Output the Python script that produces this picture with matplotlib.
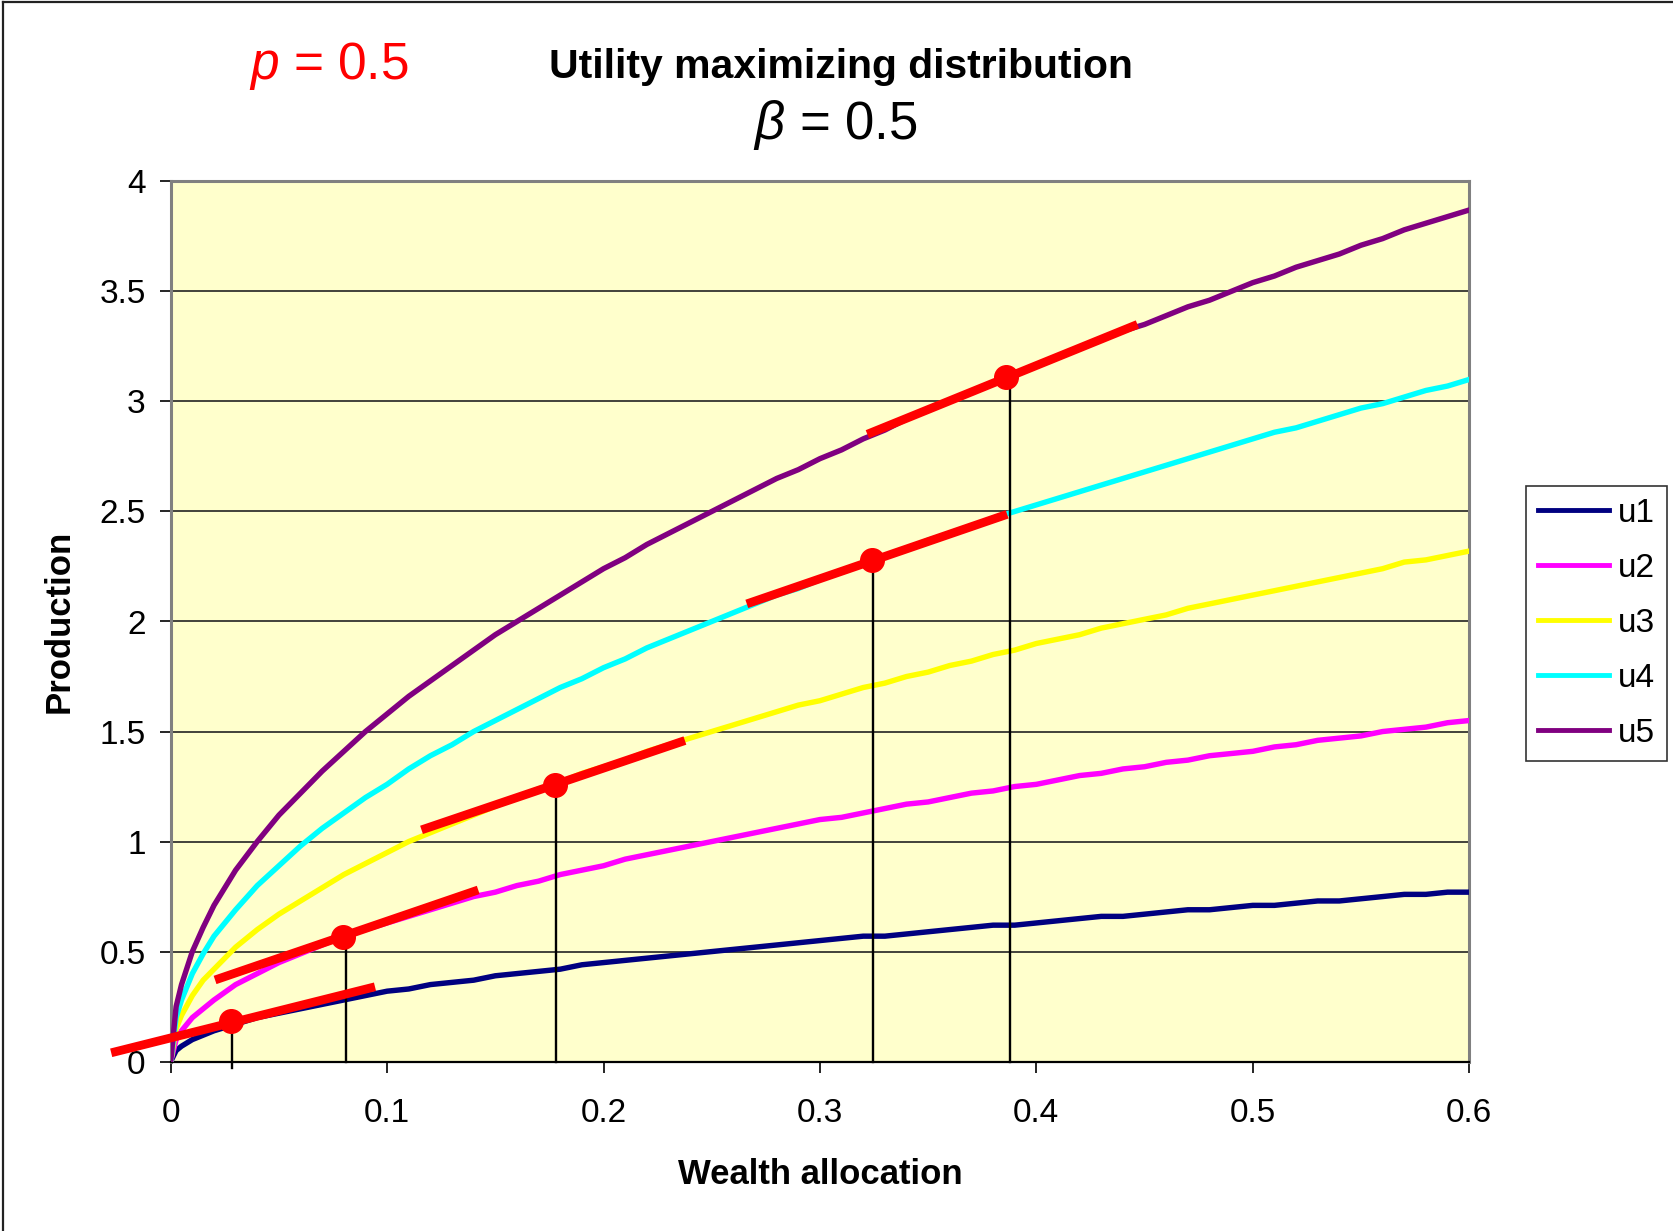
import matplotlib
matplotlib.use('Agg')
import matplotlib.pyplot as plt
from matplotlib.lines import Line2D

plt.rcParams['font.family'] = ['Liberation Sans', 'DejaVu Sans']
plt.rcParams['mathtext.fontset'] = 'custom'
plt.rcParams['mathtext.it'] = 'Liberation Sans:italic'
plt.rcParams['mathtext.rm'] = 'Liberation Sans'
plt.rcParams['mathtext.bf'] = 'Liberation Sans:bold'

# Wealth allocation grid
wealth = [0, 0.0025, 0.005, 0.01, 0.015, 0.02, 0.03, 0.04, 0.05, 0.06, 0.07, 0.08, 0.09,
          0.10, 0.11, 0.12, 0.13, 0.14, 0.15, 0.16, 0.17, 0.18, 0.19, 0.20, 0.21, 0.22,
          0.23, 0.24, 0.25, 0.26, 0.27, 0.28, 0.29, 0.30, 0.31, 0.32, 0.33, 0.34, 0.35,
          0.36, 0.37, 0.38, 0.39, 0.40, 0.41, 0.42, 0.43, 0.44, 0.45, 0.46, 0.47, 0.48,
          0.49, 0.50, 0.51, 0.52, 0.53, 0.54, 0.55, 0.56, 0.57, 0.58, 0.59, 0.60]

u1 = [0, 0.05, 0.07, 0.10, 0.12, 0.14, 0.17, 0.20, 0.22, 0.24, 0.26, 0.28, 0.30,
      0.32, 0.33, 0.35, 0.36, 0.37, 0.39, 0.40, 0.41, 0.42, 0.44, 0.45, 0.46, 0.47,
      0.48, 0.49, 0.50, 0.51, 0.52, 0.53, 0.54, 0.55, 0.56, 0.57, 0.57, 0.58, 0.59,
      0.60, 0.61, 0.62, 0.62, 0.63, 0.64, 0.65, 0.66, 0.66, 0.67, 0.68, 0.69, 0.69,
      0.70, 0.71, 0.71, 0.72, 0.73, 0.73, 0.74, 0.75, 0.76, 0.76, 0.77, 0.77]

u2 = [0, 0.10, 0.14, 0.20, 0.24, 0.28, 0.35, 0.40, 0.45, 0.49, 0.53, 0.57, 0.60,
      0.63, 0.66, 0.69, 0.72, 0.75, 0.77, 0.80, 0.82, 0.85, 0.87, 0.89, 0.92, 0.94,
      0.96, 0.98, 1.00, 1.02, 1.04, 1.06, 1.08, 1.10, 1.11, 1.13, 1.15, 1.17, 1.18,
      1.20, 1.22, 1.23, 1.25, 1.26, 1.28, 1.30, 1.31, 1.33, 1.34, 1.36, 1.37, 1.39,
      1.40, 1.41, 1.43, 1.44, 1.46, 1.47, 1.48, 1.50, 1.51, 1.52, 1.54, 1.55]

u3 = [0, 0.15, 0.21, 0.30, 0.37, 0.42, 0.52, 0.60, 0.67, 0.73, 0.79, 0.85, 0.90,
      0.95, 1.00, 1.04, 1.08, 1.12, 1.16, 1.20, 1.24, 1.27, 1.31, 1.34, 1.37, 1.41,
      1.44, 1.47, 1.50, 1.53, 1.56, 1.59, 1.62, 1.64, 1.67, 1.70, 1.72, 1.75, 1.77,
      1.80, 1.82, 1.85, 1.87, 1.90, 1.92, 1.94, 1.97, 1.99, 2.01, 2.03, 2.06, 2.08,
      2.10, 2.12, 2.14, 2.16, 2.18, 2.20, 2.22, 2.24, 2.27, 2.28, 2.30, 2.32]

u4 = [0, 0.20, 0.28, 0.40, 0.49, 0.57, 0.69, 0.80, 0.89, 0.98, 1.06, 1.13, 1.20,
      1.26, 1.33, 1.39, 1.44, 1.50, 1.55, 1.60, 1.65, 1.70, 1.74, 1.79, 1.83, 1.88,
      1.92, 1.96, 2.00, 2.04, 2.08, 2.12, 2.15, 2.19, 2.23, 2.26, 2.30, 2.33, 2.37,
      2.40, 2.43, 2.47, 2.50, 2.53, 2.56, 2.59, 2.62, 2.65, 2.68, 2.71, 2.74, 2.77,
      2.80, 2.83, 2.86, 2.88, 2.91, 2.94, 2.97, 2.99, 3.02, 3.05, 3.07, 3.10]

u5 = [0, 0.25, 0.35, 0.50, 0.61, 0.71, 0.87, 1.00, 1.12, 1.22, 1.32, 1.41, 1.50,
      1.58, 1.66, 1.73, 1.80, 1.87, 1.94, 2.00, 2.06, 2.12, 2.18, 2.24, 2.29, 2.35,
      2.40, 2.45, 2.50, 2.55, 2.60, 2.65, 2.69, 2.74, 2.78, 2.83, 2.87, 2.92, 2.96,
      3.00, 3.04, 3.08, 3.12, 3.16, 3.20, 3.24, 3.28, 3.32, 3.35, 3.39, 3.43, 3.46,
      3.50, 3.54, 3.57, 3.61, 3.64, 3.67, 3.71, 3.74, 3.78, 3.81, 3.84, 3.87]

series_names = ['u1', 'u2', 'u3', 'u4', 'u5']
series_colors = ['#000080', '#FF00FF', '#FFFF00', '#00FFFF', '#800080']

# Optimal allocation on each curve, with the tangent segment through it
opt_x = [0.0277, 0.0794, 0.1775, 0.3240, 0.3860]
opt_y = [0.185, 0.567, 1.256, 2.279, 3.113]
drop_x = [0.0285, 0.0809, 0.1780, 0.3244, 0.3876]
drop_floor = [-0.03, 0, 0, 0, 0]
tan_x0 = [-0.0275, 0.0205, 0.1159, 0.2662, 0.3219]
tan_y0 = [0.040, 0.371, 1.053, 2.080, 2.851]
tan_x1 = [0.0944, 0.1421, 0.2376, 0.3865, 0.4467]
tan_y1 = [0.340, 0.780, 1.459, 2.487, 3.350]

x_ticks = [0, 0.1, 0.2, 0.3, 0.4, 0.5, 0.6]
x_tick_labels = ['0', '0.1', '0.2', '0.3', '0.4', '0.5', '0.6']
y_ticks = [0, 0.5, 1, 1.5, 2, 2.5, 3, 3.5, 4]
y_tick_labels = ['0', '0.5', '1', '1.5', '2', '2.5', '3', '3.5', '4']

W, H = 1673, 1231
fig = plt.figure(figsize=(W / 100, H / 100), dpi=100)
fig.patch.set_facecolor('white')

ax = fig.add_axes([170.7 / W, 1 - 1061.6 / H, 1298.5 / W, 880.2 / H])
ax.set_facecolor('#FFFFCC')
ax.set_xlim(0, 0.6)
ax.set_ylim(0, 4)

ax.grid(axis='y', color='#222222', linewidth=1.2, zorder=0)
ax.set_axisbelow(True)

series = [u1, u2, u3, u4, u5]
handles = []
for vals, name, col in zip(series, series_names, series_colors):
    ln, = ax.plot(wealth, vals, color=col, linewidth=3.9, label=name,
                  solid_joinstyle='round', zorder=3)
    handles.append(ln)

for x, lo, y in zip(drop_x, drop_floor, opt_y):
    ax.plot([x, x], [lo, y], color='black', linewidth=1.7, zorder=4, clip_on=False)

for xa, ya, xb, yb in zip(tan_x0, tan_y0, tan_x1, tan_y1):
    ax.plot([xa, xb], [ya, yb], color='#FF0000', linewidth=6.3,
            solid_capstyle='butt', zorder=5, clip_on=False)

ax.plot(opt_x, opt_y, linestyle='none', marker='o', markersize=17,
        color='#FF0000', zorder=6, clip_on=False)

ax.set_xticks(x_ticks)
ax.set_xticklabels(x_tick_labels)
ax.set_yticks(y_ticks)
ax.set_yticklabels(y_tick_labels)
ax.tick_params(axis='both', direction='out', length=8, width=1.2, labelsize=24,
               color='black')
ax.tick_params(axis='x', pad=18)
ax.tick_params(axis='y', pad=10)

for side in ['top', 'right', 'left']:
    ax.spines[side].set_color('#808080')
    ax.spines[side].set_linewidth(2.2)
ax.spines['bottom'].set_color('black')
ax.spines['bottom'].set_linewidth(1.6)

ax.set_xlabel('Wealth allocation', fontsize=25, fontweight='bold')
ax.xaxis.set_label_coords(0.5, -0.109)
ax.set_ylabel('Production', fontsize=25, fontweight='bold')
ax.yaxis.set_label_coords(-0.073, 0.5)

fig.text(329 / W, 1 - 66 / H, r'$p$ = 0.5', color='#FF0000', fontsize=37,
         ha='center', va='center')
fig.text(841 / W, 1 - 67 / H, 'Utility maximizing distribution', fontsize=29.4,
         fontweight='bold', ha='center', va='center')
fig.text(835 / W, 1 - 125 / H, r'$\beta$ = 0.5', fontsize=38,
         ha='center', va='center')

leg = ax.legend(handles=handles, loc='upper left',
                bbox_to_anchor=(1526 / W, 1 - 486 / H), bbox_transform=fig.transFigure,
                fontsize=24, handlelength=2.12, handletextpad=0.28, labelspacing=0.72,
                borderpad=0.36, borderaxespad=0, frameon=True, fancybox=False,
                framealpha=1, edgecolor='#333333')
leg.get_frame().set_linewidth(1.2)
for lh in leg.get_lines():
    lh.set_linewidth(3.5)

# Outer frame lines on the left and top edges of the figure
fig.add_artist(Line2D([2.5 / W, 2.5 / W], [0, 1 - 1.5 / H], transform=fig.transFigure,
                      color='#222222', linewidth=1.6))
fig.add_artist(Line2D([2.5 / W, 1], [1 - 1.5 / H, 1 - 1.5 / H], transform=fig.transFigure,
                      color='#222222', linewidth=1.6))

fig.savefig('out.png', dpi=100)
